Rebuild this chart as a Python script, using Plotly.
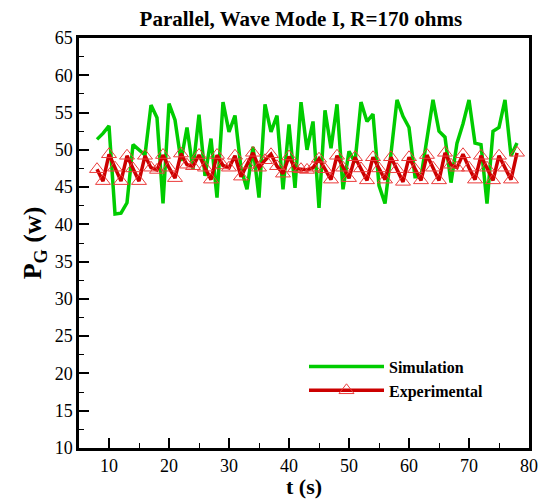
import plotly.graph_objects as go

t_sim = list(range(8, 79))
p_sim = [51.4, 52.2, 53.2, 41.4, 41.5, 42.9, 50.7, 50.0, 49.3, 56.0,
         54.3, 42.8, 56.2, 54.0, 48.5, 53.0, 47.4, 54.7, 46.5, 51.5,
         43.6, 56.4, 52.4, 54.6, 47.5, 44.7, 50.4, 43.6, 56.1, 52.4,
         54.6, 44.7, 53.4, 44.9, 56.4, 50.0, 53.8, 42.2, 55.3, 50.2,
         56.1, 44.7, 49.8, 48.3, 56.4, 53.8, 54.8, 45.2, 42.8, 49.5,
         56.7, 54.5, 53.0, 46.4, 46.4, 51.5, 56.7, 52.5, 51.7, 45.6,
         50.9, 53.5, 56.7, 50.9, 50.7, 42.8, 52.5, 53.0, 56.7, 49.2,
         50.9]

t_exp = list(range(8, 79))
p_exp = [47.4, 45.8, 49.4, 47.6, 45.8, 49.2, 47.5, 45.8, 49.2, 47.6,
         47.3, 49.3, 47.6, 46.2, 49.5, 48.0, 47.8, 49.3, 47.6, 46.0,
         49.3, 47.9, 47.6, 49.2, 46.4, 48.0, 49.6, 47.6, 48.6, 49.4,
         47.8, 46.8, 49.1, 47.5, 47.4, 47.3, 47.6, 48.8, 47.4, 46.0,
         49.2, 47.6, 46.2, 49.0, 47.5, 45.9, 49.0, 47.5, 46.0, 49.0,
         47.4, 45.7, 49.0, 47.4, 45.9, 49.3, 47.6, 45.9, 49.6, 48.0,
         47.6, 49.4, 47.6, 46.0, 49.2, 47.6, 45.9, 49.2, 47.6, 46.0,
         49.6]

x_ticks = [10, 20, 30, 40, 50, 60, 70, 80]
y_ticks = [10, 15, 20, 25, 30, 35, 40, 45, 50, 55, 60, 65]

FONT = "Liberation Serif"

fig = go.Figure()
fig.add_trace(go.Scatter(
    x=t_sim, y=p_sim, mode="lines", name="<b>Simulation</b>",
    line=dict(color="rgb(0,204,0)", width=3.5),
))
fig.add_trace(go.Scatter(
    x=t_exp, y=p_exp, mode="lines+markers", name="<b>Experimental</b>",
    line=dict(color="rgb(204,0,0)", width=3.5),
    marker=dict(symbol="triangle-up-open", size=13,
                color="rgb(235,60,60)", line=dict(width=1)),
))

axis_common = dict(
    showline=True, linewidth=2.5, linecolor="black", mirror=True,
    ticks="inside", ticklen=10, tickwidth=2, tickcolor="black",
    showgrid=False, zeroline=False, automargin=False,
    tickfont=dict(family=FONT, size=18, color="black"),
)

fig.update_xaxes(
    range=[5, 80], tickvals=x_ticks,
    minor=dict(ticks="inside", ticklen=5, tickwidth=1, dtick=5, tick0=0,
               tickcolor="black"),
    **axis_common,
)
fig.update_yaxes(
    range=[10, 65], tickvals=y_ticks,
    minor=dict(ticks="inside", ticklen=5, tickwidth=1, dtick=2.5, tick0=0,
               tickcolor="black"),
    title=dict(text="<b>P<sub>G</sub> (w)</b>",
               font=dict(family=FONT, size=26, color="black"), standoff=6),
    **axis_common,
)

fig.add_annotation(
    text="<b>t (s)</b>", xref="paper", yref="paper", x=0.5, y=-0.1268,
    xanchor="center", yanchor="bottom", showarrow=False, borderpad=0,
    font=dict(family=FONT, size=22, color="black"),
)

fig.update_layout(
    width=547, height=500,
    margin=dict(l=79, r=18, t=38, b=52),
    paper_bgcolor="white", plot_bgcolor="white",
    title=dict(text="<b>Parallel, Wave Mode I, R=170 ohms</b>",
               font=dict(family=FONT, size=21, color="black"),
               x=0.55, xanchor="center", y=0.963, yanchor="middle"),
    legend=dict(x=0.5, y=0.24, xanchor="left", yanchor="top",
                bgcolor="rgba(0,0,0,0)", itemwidth=75,
                font=dict(family=FONT, size=16, color="black"),
                tracegroupgap=0),
    showlegend=True,
)

fig.write_html("out.html")
